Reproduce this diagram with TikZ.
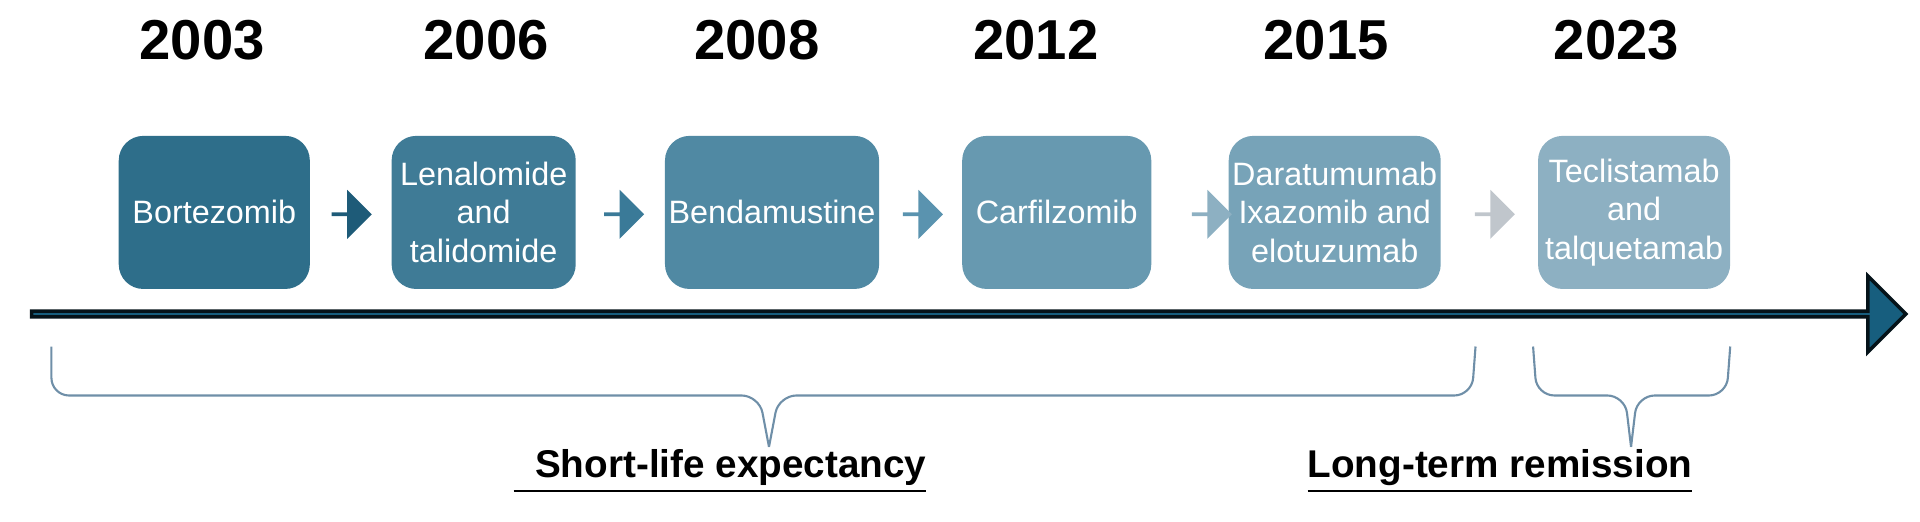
\documentclass[tikz,border=0pt]{standalone}
\usepackage{fontspec}
\setmainfont{Liberation Sans}
\usetikzlibrary{shapes.arrows}
\definecolor{axisblue}{HTML}{175E7E}
\definecolor{bracegray}{HTML}{6F8FA8}
\tikzset{
  drug/.style={rounded corners=7pt, minimum width=#1, minimum height=1.53cm, text=white,
    font=\fontsize{9.2}{11}\selectfont, align=center, inner sep=1pt},
  year/.style={font=\bfseries\fontsize{16}{18}\selectfont},
  stepper/.style={single arrow, draw=none, minimum width=0.49cm, minimum height=0.40cm,
    single arrow head extend=0.086cm, single arrow head indent=0pt, inner sep=0pt},
  brace/.style={draw=bracegray, line width=0.6pt, rounded corners=5pt},
  verdict/.style={font=\bfseries\fontsize{11}{13}\selectfont}
}
\begin{document}
\begin{tikzpicture}[x=0.012245cm, y=0.012245cm]
  \useasboundingbox (0,0) rectangle (1568,426);

  % timeline
  \node[single arrow, fill=axisblue, draw=black!80!axisblue, line width=1pt,
    minimum height=18.73cm, minimum width=0.76cm, single arrow head extend=0.214cm,
    single arrow head indent=0pt, inner sep=0pt]
    (axis) at (790,169.5) {};

  % drug boxes
  \node[drug=1.91cm, fill={rgb,255:red,46;green,110;blue,138}] (bort) at (175,252.5) {Bortezomib};
  \node[drug=1.84cm, fill={rgb,255:red,63;green,123;blue,150}] (lena) at (395,252.5) {Lenalomide\\and\\talidomide};
  \node[drug=2.14cm, fill={rgb,255:red,80;green,137;blue,163}] (bend) at (630.5,252.5) {Bendamustine};
  \node[drug=1.89cm, fill={rgb,255:red,103;green,153;blue,176}] (carf) at (863,252.5) {Carfilzomib};
  \node[drug=1.96cm, fill={rgb,255:red,119;green,163;blue,184}] (dara) at (1090,252.5) {Daratumumab\\Ixazomib and\\elotuzumab};
  \node[drug=1.92cm, fill={rgb,255:red,141;green,176;blue,194}] (tecl) at (1334.5,252.5) {Teclistamab\\and\\talquetamab};

  % steps between boxes
  \node[stepper, fill={rgb,255:red,30;green,91;blue,120}] (s1) at (286.5,251) {};
  \node[stepper, fill={rgb,255:red,58;green,122;blue,152}] (s2) at (509,251) {};
  \node[stepper, fill={rgb,255:red,90;green,147;blue,175}] (s3) at (753,251) {};
  \node[stepper, fill={rgb,255:red,141;green,176;blue,194}] (s4) at (989,251) {};
  \node[stepper, fill={rgb,255:red,192;green,198;blue,204}] (s5) at (1220,251) {};

  % years
  \node[year] (y03) at (165,393) {2003};
  \node[year] (y06) at (397,393) {2006};
  \node[year] (y08) at (618,393) {2008};
  \node[year] (y12) at (846,393) {2012};
  \node[year] (y15) at (1083,393) {2015};
  \node[year] (y23) at (1320,393) {2023};

  % braces
  \draw[brace] (42,143) -- (42,103) -- (620,103) -- (628,61);
  \draw[brace] (628,61) -- (636,103) -- (1202,103) -- (1205,143);
  \draw[brace] (1252,143) -- (1255,103) -- (1327,103) -- (1332,61);
  \draw[brace] (1332,61) -- (1337,103) -- (1410,103) -- (1413,143);

  % outcomes
  \node[verdict] (short) at (588,41) {\underline{\ \ Short-life expectancy}};
  \node[verdict] (long) at (1225,41) {\underline{Long-term remission}};
\end{tikzpicture}
\end{document}
